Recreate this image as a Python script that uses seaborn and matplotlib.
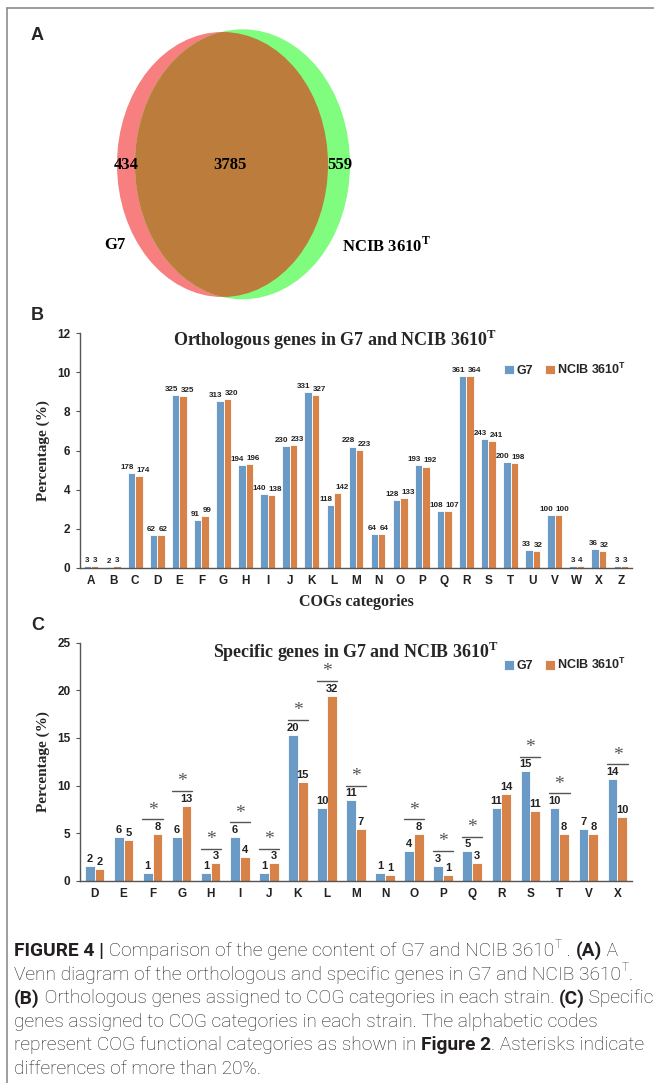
import numpy as np
import pandas as pd
import matplotlib
matplotlib.use("Agg")
import matplotlib.pyplot as plt
from matplotlib.patches import Ellipse
import seaborn as sns

# ---- data -------------------------------------------------------------
venn_only_g7 = 434
venn_shared = 3785
venn_only_ncib = 559

orth_cats = list("ABCDEFGHIJKLMNOPQRSTUVWXZ")
orth_g7_n = [3, 2, 178, 62, 325, 91, 313, 194, 140, 230, 331, 118, 228,
             64, 128, 193, 108, 361, 243, 200, 33, 100, 3, 36, 3]
orth_ncib_n = [3, 3, 174, 62, 325, 99, 320, 196, 138, 233, 327, 142, 223,
               64, 133, 192, 107, 364, 241, 198, 32, 100, 4, 32, 3]
orth_g7_pct = [0.08, 0.05, 4.84, 1.68, 8.83, 2.47, 8.51, 5.27, 3.80, 6.25, 8.99, 3.21, 6.20,
               1.74, 3.48, 5.24, 2.93, 9.81, 6.60, 5.43, 0.90, 2.72, 0.08, 0.98, 0.08]
orth_ncib_pct = [0.08, 0.08, 4.70, 1.67, 8.77, 2.67, 8.63, 5.29, 3.72, 6.29, 8.82, 3.83, 6.02,
                 1.73, 3.59, 5.18, 2.89, 9.82, 6.50, 5.34, 0.86, 2.70, 0.11, 0.86, 0.08]

spec_cats = ["D", "E", "F", "G", "H", "I", "J", "K", "L", "M",
             "N", "O", "P", "Q", "R", "S", "T", "V", "X"]
spec_g7_n = [2, 6, 1, 6, 1, 6, 1, 20, 10, 11, 1, 4, 3, 5, 11, 15, 10, 7, 14]
spec_ncib_n = [2, 5, 8, 13, 3, 4, 3, 15, 32, 7, 1, 8, 1, 3, 14, 11, 8, 8, 10]
spec_g7_pct = [1.54, 4.59, 0.80, 4.59, 0.80, 4.59, 0.80, 15.34, 7.63, 8.44,
               0.80, 3.08, 1.58, 3.08, 7.63, 11.48, 7.63, 5.39, 10.71]
spec_ncib_pct = [1.26, 4.27, 4.90, 7.88, 1.82, 2.45, 1.82, 10.36, 19.43, 5.46,
                 0.60, 4.90, 0.60, 1.82, 9.14, 7.32, 4.90, 4.90, 6.72]
spec_star = [0, 0, 1, 1, 1, 1, 1, 1, 1, 1, 0, 1, 1, 1, 0, 1, 1, 0, 1]

BLUE = "#5B9BD5"
ORANGE = "#ED7D31"
SERIF = "Liberation Serif"
SANS = "Liberation Sans"

sns.set_theme(style="ticks")
plt.rcParams["font.family"] = [SANS, "DejaVu Sans"]
plt.rcParams["mathtext.fontset"] = "custom"
plt.rcParams["mathtext.rm"] = SERIF
plt.rcParams["mathtext.bf"] = SERIF + ":bold"
plt.rcParams["mathtext.sf"] = SANS + ":bold"

W, H = 654, 1083
fig = plt.figure(figsize=(W / 100, H / 100), dpi=100)

# overlay axes in pixel units for venn, frame and caption
ov = fig.add_axes([0, 0, 1, 1])
ov.set_xlim(0, W)
ov.set_ylim(H, 0)
ov.axis("off")

ov.plot([7, 7], [8, H], color="#8c8c8c", lw=1.2)
ov.plot([7, W], [8, 8], color="#8c8c8c", lw=1.2)

# ---- panel A: venn ----------------------------------------------------
red = Ellipse((222.5, 164.5), 211, 265, color="#F77F7F", lw=0)
green = Ellipse((242.5, 164.3), 215, 270, color="#80FC7E", lw=0)
ov.add_patch(red)
ov.add_patch(green)
both = Ellipse((222.5, 164.5), 211, 265, color="#BC7D3C", lw=0, zorder=3)
ov.add_patch(both)
both.set_clip_path(green)

vkw = dict(fontfamily=SERIF, fontweight="bold", fontsize=12, va="center", color="black", zorder=5)
ov.text(126, 165, str(venn_only_g7), ha="center", **vkw)
ov.text(230, 165, str(venn_shared), ha="center", **vkw)
ov.text(340, 165, str(venn_only_ncib), ha="center", **vkw)
ov.text(104, 245, "G7", ha="left", **vkw)
ov.text(342, 246, r"NCIB 3610$^{\mathbf{T}}$", ha="left", **vkw)

for lab, y in [("A", 35), ("B", 315), ("C", 625)]:
    ov.text(31, y, lab, fontfamily=SANS, fontweight="bold", fontsize=13, va="center", ha="left")


def bar_panel(ax, cats, g7_pct, ncib_pct, g7_n, ncib_n, lab_size, lab_weight, lab_shift):
    df = pd.DataFrame({
        "cat": cats + cats,
        "pct": g7_pct + ncib_pct,
        "strain": ["G7"] * len(cats) + ["NCIB"] * len(cats),
    })
    sns.barplot(data=df, x="cat", y="pct", hue="strain", palette=[BLUE, ORANGE],
                width=0.67, edgecolor="white", linewidth=0.6, ax=ax, errorbar=None)
    for cont, vals, sgn in [(ax.containers[0], g7_n, -1), (ax.containers[1], ncib_n, 1)]:
        anns = ax.bar_label(cont, labels=[str(v) for v in vals], padding=1.5,
                            fontsize=lab_size, fontweight=lab_weight, color="#222222")
        # push wider labels apart so the pair doesn't collide
        for a, v in zip(anns, vals):
            a.xyann = (sgn * lab_shift * (len(str(v)) - 1), 1.5)
    handles, _ = ax.get_legend_handles_labels()
    ax.legend(handles, ["G7", r"NCIB 3610$^{\mathsf{T}}$"], ncol=2, frameon=False,
              loc="center right", handlelength=0.75,
              handleheight=0.75, handletextpad=0.2, columnspacing=1.0,
              prop=dict(family=SANS, weight="bold", size=9))
    ax.set_xlim(-0.5, len(cats) - 0.5)
    sns.despine(ax=ax)
    for s in ["left", "bottom"]:
        ax.spines[s].set_color("#555555")
        ax.spines[s].set_linewidth(1.0)
    ax.tick_params(axis="x", length=0, labelsize=8.5, pad=5)
    ax.tick_params(axis="y", length=3, width=0.8, color="#555555", labelsize=8.5, pad=4)
    for t in ax.get_xticklabels() + ax.get_yticklabels():
        t.set_fontweight("bold")
        t.set_color("#222222")
    ax.set_ylabel("Percentage (%)", fontfamily=SERIF, fontweight="bold", fontsize=11, labelpad=5)


# ---- panel B ----------------------------------------------------------
axb = fig.add_axes([80 / W, 1 - 568 / H, 552 / W, 235 / H])
bar_panel(axb, orth_cats, orth_g7_pct, orth_ncib_pct, orth_g7_n, orth_ncib_n, 5.8, "semibold", 1.55)
axb.set_ylim(0, 12)
axb.set_yticks(range(0, 13, 2))
axb.get_legend().set_bbox_to_anchor((1.01, 1 - 36 / 235))
axb.set_xlabel("COGs categories", fontfamily=SERIF, fontweight="bold", fontsize=11.5, labelpad=5)
axb.set_title(r"Orthologous genes in G7 and NCIB 3610$^{\mathbf{T}}$", fontfamily=SERIF,
              fontweight="bold", fontsize=13, x=0.461, y=0.91)

# ---- panel C ----------------------------------------------------------
axc = fig.add_axes([80 / W, 1 - 880.7 / H, 552 / W, 238 / H])
bar_panel(axc, spec_cats, spec_g7_pct, spec_ncib_pct, spec_g7_n, spec_ncib_n, 8, "bold", 0)
axc.set_ylim(0, 25)
axc.set_yticks(range(0, 26, 5))
axc.set_xlabel("")
axc.get_legend().set_bbox_to_anchor((1.01, 1 - 22 / 238))
axc.set_title(r"Specific genes in G7 and NCIB 3610$^{\mathbf{T}}$", fontfamily=SERIF,
              fontweight="bold", fontsize=12.9, y=0.9)
for i, flag in enumerate(spec_star):
    if flag:
        top = max(spec_g7_pct[i], spec_ncib_pct[i]) + 1.55
        axc.plot([i - 0.35, i + 0.35], [top, top], color="#555555", lw=1.0)
        axc.text(i, top + 0.05, "*", ha="center", va="bottom", fontfamily=SERIF,
                 fontsize=14, color="#555555")

# ---- caption ----------------------------------------------------------
fig.canvas.draw()
renderer = fig.canvas.get_renderer()
CAP = "Roboto"
cap_size = 13.8
lines = [
    [("FIGURE 4 |", "bold"), (" Comparison of the gene content of G7 and NCIB 3610", "light"),
     ("T", "sup"), (" . ", "light"), ("(A)", "bold"), (" A", "light")],
    [("Venn diagram of the orthologous and specific genes in G7 and NCIB 3610", "light"),
     ("T", "sup"), (".", "light")],
    [("(B)", "bold"), (" Orthologous genes assigned to COG categories in each strain. ", "light"),
     ("(C)", "bold"), (" Specific", "light")],
    [("genes assigned to COG categories in each strain. The alphabetic codes", "light")],
    [("represent COG functional categories as shown in ", "light"), ("Figure 2", "bold"),
     (". Asterisks indicate", "light")],
    [("differences of more than 20%.", "light")],
]
y = 951
for segs in lines:
    x = 14
    for txt, kind in segs:
        if kind == "sup":
            t = ov.text(x + 1, y - 7, txt, fontfamily=CAP, fontweight="light",
                        fontsize=cap_size * 0.62, va="center", ha="left", color="#231f20")
        else:
            t = ov.text(x, y, txt, fontfamily=CAP, fontweight=kind,
                        fontsize=cap_size, va="center", ha="left", color="#231f20")
        x += t.get_window_extent(renderer).width + (1 if kind == "sup" else 0)
    y += 23.6

fig.savefig("out.png", dpi=100)
